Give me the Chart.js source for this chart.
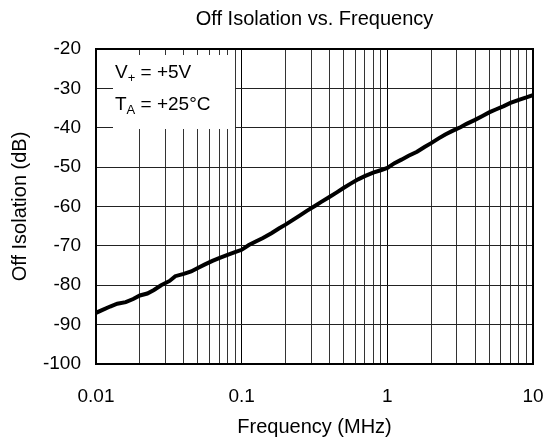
<!DOCTYPE html>
<html>
<head>
<meta charset="utf-8">
<script src="https://cdn.jsdelivr.net/npm/chart.js@4/dist/chart.umd.min.js"></script>
<style>
  html, body { margin: 0; padding: 0; background: #fff; }
  #wrap { width: 547px; height: 443px; }
</style>
</head>
<body>
<div id="wrap"><canvas id="isoChart" width="547" height="443"></canvas></div>
<script>
// ---- data ----
const freqMHz = [
  0.01, 0.011, 0.0125, 0.014, 0.016, 0.018, 0.02, 0.0225, 0.025, 0.028,
  0.032, 0.035, 0.04, 0.045, 0.05, 0.056, 0.063, 0.07, 0.08, 0.09,
  0.1, 0.112, 0.125, 0.14, 0.16, 0.18, 0.2, 0.225, 0.25, 0.28,
  0.32, 0.35, 0.4, 0.45, 0.5, 0.56, 0.63, 0.7, 0.8, 0.9,
  1.0, 1.12, 1.25, 1.4, 1.6, 1.8, 2.0, 2.25, 2.5, 2.8,
  3.2, 3.5, 4.0, 4.5, 5.0, 5.6, 6.3, 7.0, 8.0, 9.0, 10
];
const offIsoDb = [
  -87.0, -86.3, -85.4, -84.7, -84.3, -83.5, -82.6, -82.1, -81.2, -80.0,
  -78.9, -77.7, -77.1, -76.5, -75.6, -74.7, -73.8, -73.1, -72.3, -71.6,
  -71.0, -69.8, -68.9, -68.0, -66.8, -65.6, -64.6, -63.4, -62.3, -61.1,
  -59.8, -58.9, -57.6, -56.4, -55.3, -54.2, -53.1, -52.3, -51.4, -50.8,
  -50.2, -49.0, -48.1, -47.1, -46.1, -44.9, -43.9, -42.7, -41.7, -40.8,
  -39.8, -39.0, -38.0, -37.0, -36.1, -35.3, -34.5, -33.7, -32.9, -32.3, -31.7
];

const decades = [0.01, 0.1, 1, 10];
const minorSteps = [1, 2, 3, 4, 5, 6, 7, 8, 9];
const yMin = -100, yMax = -20, yStep = 10;

const FONT = 'Arial, "Liberation Sans", sans-serif';

// all log gridline positions (1..9 per decade, plus the last decade)
const xGridValues = [];
decades.slice(0, -1).forEach(d => {
  minorSteps.forEach(m => xGridValues.push(Number((d * m).toPrecision(3))));
});
xGridValues.push(decades[decades.length - 1]);

const isDecade = v => decades.some(d => Math.abs(d - v) < d * 1e-6);

// frame + condition box
const framePlugin = {
  id: 'frame',
  beforeDatasetsDraw(chart) {
    const { ctx, chartArea: a } = chart;
    const bx = a.left + 17, by = a.top + 6;
    ctx.save();
    ctx.fillStyle = '#fff';
    ctx.fillRect(bx, by, 122, 74);
    ctx.fillStyle = '#000';
    ctx.textBaseline = 'alphabetic';

    // V+ = +5V
    let x = bx + 2, y = a.top + 29;
    ctx.font = '19px ' + FONT;
    ctx.fillText('V', x, y); x += ctx.measureText('V').width;
    ctx.font = '13px ' + FONT;
    ctx.fillText('+', x, y + 4); x += ctx.measureText('+').width;
    ctx.font = '19px ' + FONT;
    ctx.fillText(' = +5V', x, y);

    // TA = +25°C
    x = bx + 2; y = a.top + 61;
    ctx.fillText('T', x, y); x += ctx.measureText('T').width;
    ctx.font = '13px ' + FONT;
    ctx.fillText('A', x, y + 4); x += ctx.measureText('A').width;
    ctx.font = '19px ' + FONT;
    ctx.fillText(' = +25°C', x, y);
    ctx.restore();
  },
  afterDatasetsDraw(chart) {
    const { ctx, chartArea: a } = chart;
    ctx.save();
    ctx.strokeStyle = '#000';
    ctx.lineWidth = 2;
    ctx.strokeRect(a.left, a.top, a.right - a.left, a.bottom - a.top);
    ctx.restore();
  }
};

new Chart(document.getElementById('isoChart').getContext('2d'), {
  type: 'line',
  data: {
    datasets: [{
      label: 'Off Isolation',
      data: freqMHz.map((f, i) => ({ x: f, y: offIsoDb[i] })),
      borderColor: '#000',
      borderWidth: 4,
      pointRadius: 0,
      tension: 0,
      fill: false
    }]
  },
  options: {
    responsive: false,
    animation: false,
    layout: { padding: { left: 0, right: 14, top: 0, bottom: 0 } },
    plugins: {
      legend: { display: false },
      tooltip: { enabled: false },
      title: {
        display: true,
        fullSize: false,   // centre over the plot area
        text: 'Off Isolation vs. Frequency',
        color: '#000',
        font: { family: FONT, size: 20, weight: 'normal' },
        padding: { top: 7, bottom: 18 }
      }
    },
    scales: {
      x: {
        type: 'logarithmic',
        min: decades[0],
        max: decades[decades.length - 1],
        afterBuildTicks: s => { s.ticks = xGridValues.map(v => ({ value: v })); },
        afterFit: s => { s.height = 79; s.paddingLeft = 0; s.paddingRight = 0; },
        border: { display: false },
        grid: {
          drawTicks: false,
          color: c => (c.tick && isDecade(c.tick.value)) ? '#000' : '#333',
          lineWidth: 1
        },
        ticks: {
          autoSkip: false,
          maxRotation: 0,
          padding: 21,
          color: '#000',
          font: { family: FONT, size: 19 },
          callback: v => isDecade(v) ? String(v) : ''
        },
        title: {
          display: true,
          text: 'Frequency (MHz)',
          color: '#000',
          font: { family: FONT, size: 20 },
          padding: { top: 0, bottom: 4 }
        }
      },
      y: {
        min: yMin,
        max: yMax,
        afterFit: s => { s.width = 96; s.paddingTop = 0; s.paddingBottom = 0; },
        border: { display: false },
        grid: { drawTicks: false, color: '#222', lineWidth: 1 },
        ticks: {
          stepSize: yStep,
          padding: 15,
          color: '#000',
          font: { family: FONT, size: 19 }
        },
        title: {
          display: true,
          text: 'Off Isolation (dB)',
          color: '#000',
          font: { family: FONT, size: 20 },
          padding: { top: 8, bottom: 0 }
        }
      }
    }
  },
  plugins: [framePlugin]
});
</script>
</body>
</html>
